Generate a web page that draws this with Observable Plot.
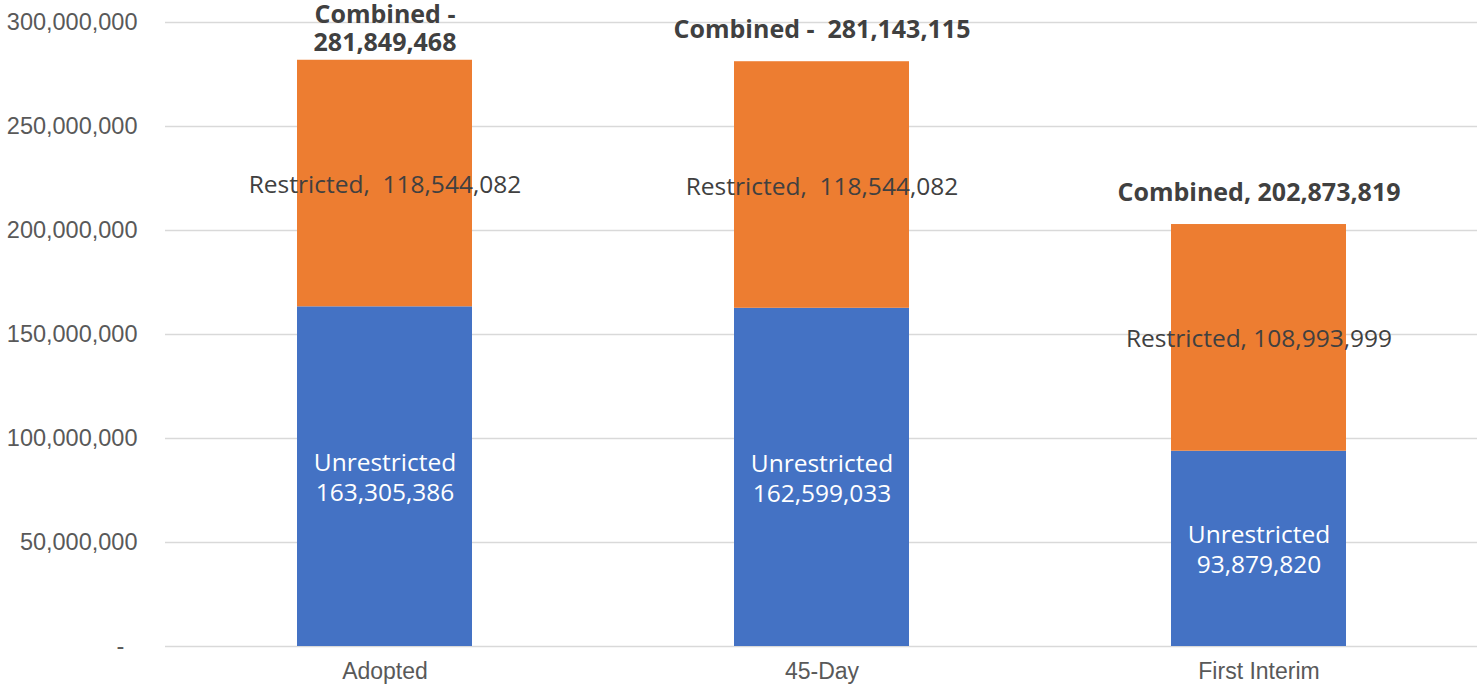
<!DOCTYPE html>
<html>
<head>
<meta charset="utf-8">
<script src="https://cdn.jsdelivr.net/npm/d3@7"></script>
<script src="https://cdn.jsdelivr.net/npm/@observablehq/plot@0.6"></script>
<style>
  html, body { margin: 0; padding: 0; background: #fff; }
  svg text { white-space: pre; }
</style>
</head>
<body>
<div id="chart"></div>
<script>
const categories = ["Adopted", "45-Day", "First Interim"];
const series = ["Unrestricted", "Restricted"];
const unrestrictedValues = [163305386, 162599033, 93879820];
const restrictedValues = [118544082, 118544082, 108993999];
const combinedValues = [281849468, 281143115, 202873819];
const unrestrictedLabels = ["Unrestricted\n163,305,386", "Unrestricted\n162,599,033", "Unrestricted\n93,879,820"];
const restrictedLabels = ["Restricted,  118,544,082", "Restricted,  118,544,082", "Restricted, 108,993,999"];
const combinedLabels = ["Combined -\n281,849,468", "Combined -  281,143,115", "Combined, 202,873,819"];
const yTicks = [0, 50000000, 100000000, 150000000, 200000000, 250000000, 300000000];

const rows = [];
categories.forEach((c, i) => {
  rows.push({category: c, series: "Unrestricted", value: unrestrictedValues[i], label: unrestrictedLabels[i]});
  rows.push({category: c, series: "Restricted", value: restrictedValues[i], label: restrictedLabels[i]});
});
const totals = categories.map((c, i) => ({category: c, total: combinedValues[i], label: combinedLabels[i]}));

const dataFont = "'Open Sans', sans-serif";
const fmt = d3.format(",");

const chart = Plot.plot({
  width: 1477,
  height: 688,
  marginLeft: 165,
  marginRight: 0,
  marginTop: 22,
  marginBottom: 42,
  style: {fontFamily: "'Liberation Sans', Arial, sans-serif", background: "#fff"},
  x: {domain: categories, paddingInner: 0.6, paddingOuter: 0.3, label: null},
  y: {domain: [0, 300000000], label: null},
  color: {domain: series, range: ["#4472C4", "#ED7D31"]},
  marks: [
    Plot.gridY(yTicks, {stroke: "#d9d9d9", strokeOpacity: 1, strokeWidth: 1.5}),
    Plot.axisY(yTicks, {
      tickSize: 0, tickPadding: 28, fontSize: 23.5, fill: "#595959", label: null,
      tickFormat: d => d === 0 ? "-\u00A0\u00A0" : fmt(d)
    }),
    Plot.axisX({tickSize: 0, tickPadding: 16, fontSize: 23, fill: "#595959", label: null}),
    Plot.barY(rows, {x: "category", y: "value", fill: "series"}),
    Plot.text(rows, Plot.stackY({
      x: "category", y: "value", text: d => d.series === "Restricted" ? d.label : "",
      fontFamily: dataFont, fontSize: 24.5, fill: "#404040", lineHeight: 1.22
    })),
    Plot.text(rows, Plot.stackY({
      x: "category", y: "value", text: d => d.series === "Unrestricted" ? d.label : "",
      fontFamily: dataFont, fontSize: 24.5, fill: "#ffffff", lineHeight: 1.22
    })),
    Plot.text(totals.filter(d => d.label.includes("\n")), {
      x: "category", y: "total", text: "label", lineAnchor: "bottom", dy: -9,
      fontFamily: dataFont, fontSize: 25, fontWeight: 700, fill: "#404040", lineHeight: 1.12
    }),
    Plot.text(totals.filter(d => !d.label.includes("\n")), {
      x: "category", y: "total", text: "label", lineAnchor: "bottom", dy: -24,
      fontFamily: dataFont, fontSize: 25, fontWeight: 700, fill: "#404040"
    })
  ]
});
document.getElementById("chart").appendChild(chart);
</script>
</body>
</html>
